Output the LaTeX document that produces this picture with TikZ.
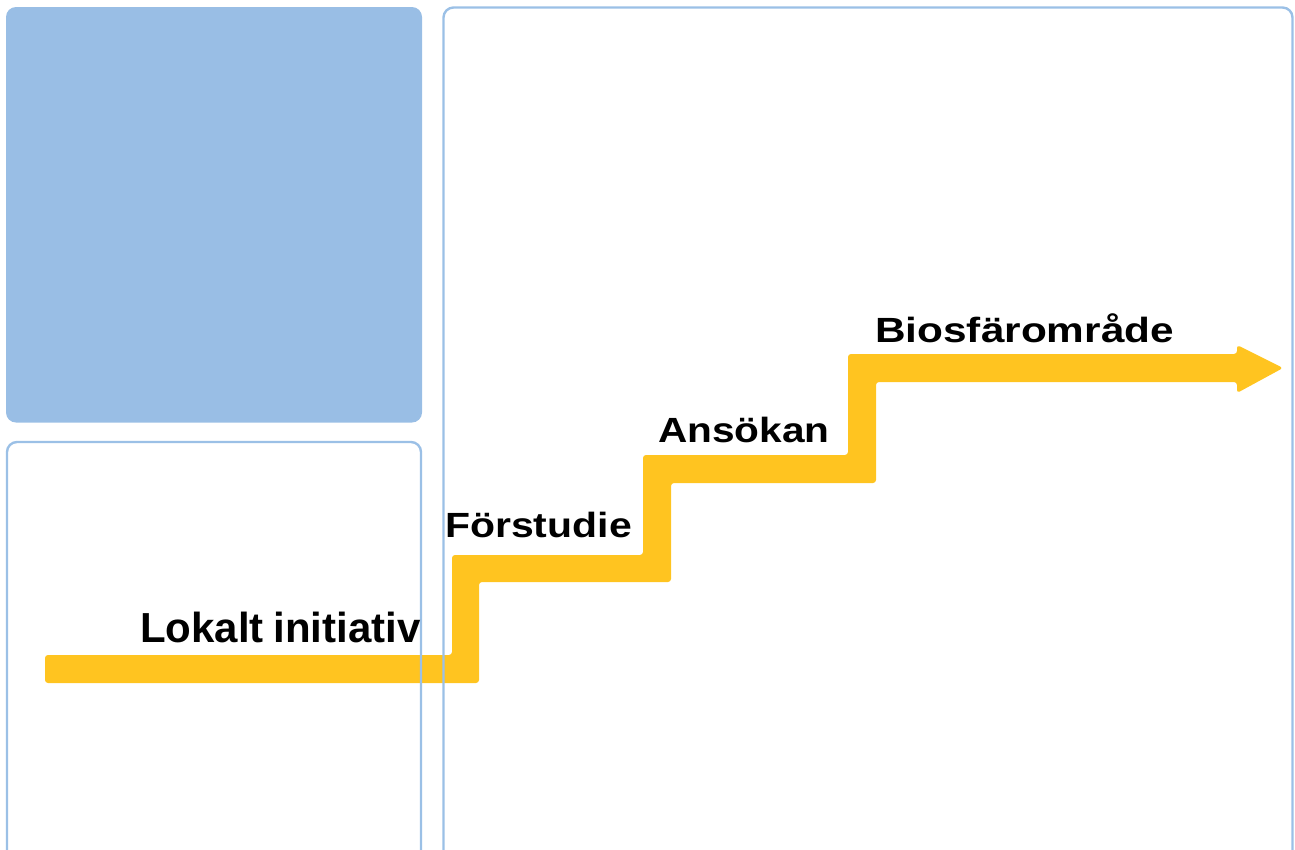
\documentclass[tikz,border=0pt]{standalone}
\usepackage{fontspec}
\setmainfont{Liberation Sans}
\usepackage{graphicx}
\definecolor{boxblue}{RGB}{153,190,229}
\definecolor{lineblue}{RGB}{155,192,230}
\definecolor{stairyellow}{RGB}{255,196,32}
\tikzset{
  panel/.style={draw=lineblue, line width=2.4pt, rounded corners=10pt},
  filledpanel/.style={fill=boxblue, rounded corners=10pt},
  stepbar/.style={fill=stairyellow, rounded corners=3pt},
  steplabel/.style={anchor=base west, inner sep=0pt, font=\bfseries}
}
\begin{document}
\begin{tikzpicture}[x=1pt,y=-1pt]
\useasboundingbox (0,0) rectangle (1295,849);
\clip (0,0) rectangle (1295,849);
% stair arrow
\path[stepbar] (45,655) -- (452,655) -- (452,555) -- (643,555) -- (643,455)
  -- (848,455) -- (848,354) -- (1237,354) -- (1237,345) -- (1283,368)
  -- (1237,393) -- (1237,382) -- (876,382) -- (876,483) -- (671,483)
  -- (671,582) -- (479,582) -- (479,683) -- (45,683) -- cycle;
% panels
\path[filledpanel] (6,7) rectangle (422,422.5);
\draw[panel] (7,442) rectangle (421,880);
\draw[panel] (443.5,7.5) rectangle (1292.5,880);
% labels
\node[steplabel] (lokalt) at (140,642) {\fontsize{42}{48}\selectfont\scalebox{1.0}[1]{Lokalt\kern-2pt{} initiativ}};
\node[steplabel] (forstudie) at (445,537) {\fontsize{35}{40}\selectfont\scalebox{1.17}[1]{Förstudie}};
\node[steplabel] (ansokan) at (658,442) {\fontsize{35}{40}\selectfont\scalebox{1.16}[1]{Ansökan}};
\node[steplabel] (biosfar) at (875,342) {\fontsize{35}{40}\selectfont\scalebox{1.21}[1]{Biosfärområde}};
\end{tikzpicture}
\end{document}
